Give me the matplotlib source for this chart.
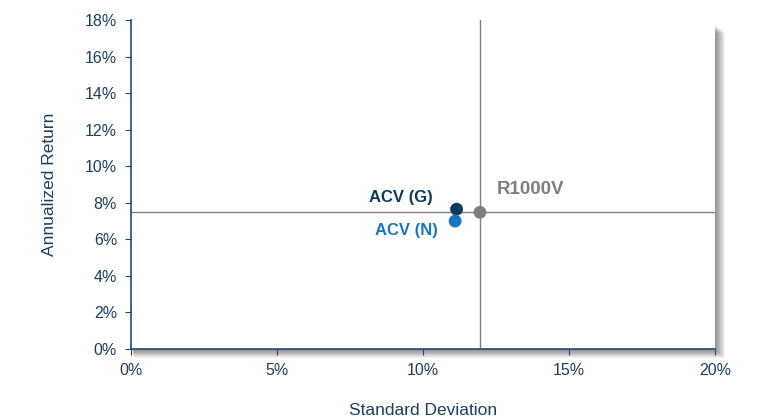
import matplotlib
matplotlib.use('Agg')
import matplotlib.pyplot as plt
from matplotlib.patches import Rectangle
from matplotlib.ticker import FuncFormatter

plt.rcParams['font.family'] = ['Liberation Sans', 'DejaVu Sans']

# Risk / return data (percent)
names = ['ACV (G)', 'ACV (N)', 'R1000V']
std_dev = [11.15, 11.1, 11.95]
ann_return = [7.65, 7.0, 7.48]
colors = ['#0b3a5c', '#1677bd', '#7f7f7f']
label_offsets = [(-0.8, 0.66), (-0.6, -0.5), (0.58, 1.22)]
label_align = ['right', 'right', 'left']
label_sizes = [12, 12, 13.5]

xticks = [0, 5, 10, 15, 20]
yticks = [0, 2, 4, 6, 8, 10, 12, 14, 16, 18]

axis_color = '#1f4a6e'
text_color = '#1b3f5e'

W, H = 765, 417
left, bottom, width, height = 131 / W, 68 / H, 584 / W, 329 / H

fig = plt.figure(figsize=(7.65, 4.17), dpi=100)
ax = fig.add_axes([left, bottom, width, height])

# soft drop shadow behind the plot area (stacked translucent layers)
for k in range(1, 11):
    dx, dy = k / W, k * 0.9 / H
    fig.patches.append(Rectangle((left + dx * 0.3, bottom - dy), width + dx * 0.7, height - 4 / H,
                                 transform=fig.transFigure, facecolor='black',
                                 alpha=0.05, edgecolor='none', zorder=0))
ax.set_facecolor('white')
ax.set_zorder(1)

# crosshair through the benchmark
ax.axvline(std_dev[2], color='#7f7f7f', lw=1, zorder=1)
ax.axhline(ann_return[2], color='#7f7f7f', lw=1, zorder=1)

for x, y, c, n, (dx, dy), ha, fs in zip(std_dev, ann_return, colors, names,
                                         label_offsets, label_align, label_sizes):
    ax.scatter(x, y, s=85, color=c, zorder=3, edgecolors='none')
    ax.text(x + dx, y + dy, n, color=c, fontsize=fs, fontweight='bold',
            ha=ha, va='center')

ax.set_xlim(0, 20)
ax.set_ylim(0, 18)
ax.set_xticks(xticks)
ax.set_yticks(yticks)
ax.xaxis.set_major_formatter(FuncFormatter(lambda v, p: f'{v:.0f}%'))
ax.yaxis.set_major_formatter(FuncFormatter(lambda v, p: f'{v:.0f}%'))

for s in ['top', 'right']:
    ax.spines[s].set_visible(False)
for s in ['left', 'bottom']:
    ax.spines[s].set_color(axis_color)
    ax.spines[s].set_linewidth(1.2)
ax.tick_params(colors=axis_color, labelcolor=text_color, labelsize=11.5, length=4)
ax.tick_params(axis='y', pad=6)
ax.tick_params(axis='x', pad=6)

ax.set_xlabel('Standard Deviation', color=text_color, fontsize=12.5, labelpad=18)
ax.set_ylabel('Annualized Return', color=text_color, fontsize=12.5, labelpad=20)

fig.savefig('out.png', dpi=100)
